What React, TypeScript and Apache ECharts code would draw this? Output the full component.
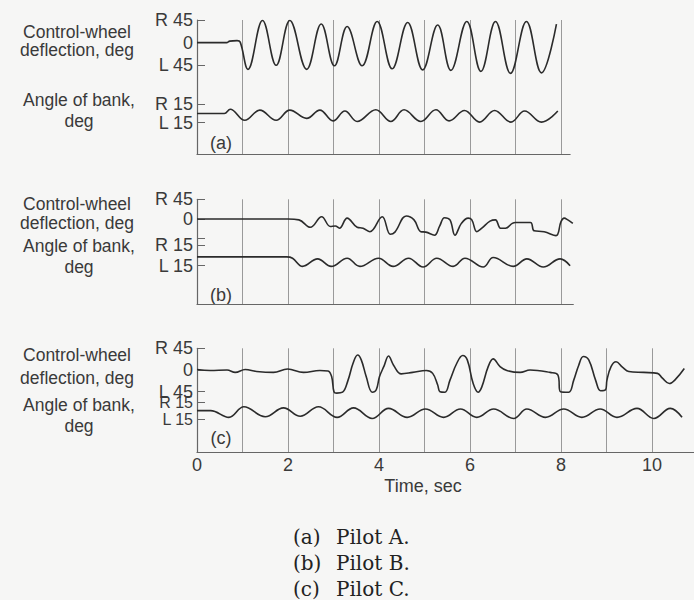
import React, { useEffect, useRef } from "react";
import * as echarts from "echarts";

// ---- data: [time (s), degrees] ----
const pilotAWheel: [number, number][] = [
  [0, 0], [0.65, 0], [0.72, 3], [0.88, 4], [0.95, 1], [1.12, -53], [1.44, 44], [1.74, -45],
  [2.04, 44], [2.41, -53], [2.73, 37], [3.02, -46], [3.3, 32], [3.63, -46], [3.96, 42],
  [4.29, -52], [4.63, 40], [4.96, -54], [5.29, 35], [5.58, -55], [5.93, 42], [6.24, -57],
  [6.56, 42], [6.89, -61], [7.24, 42], [7.57, -60], [7.9, 37],
];
const pilotABank: [number, number][] = [
  [0, 0], [0.6, 0], [0.73, 7], [1.05, -11], [1.38, 5.5], [1.74, -11], [2.04, 5.5], [2.41, -8],
  [2.7, 5.5], [2.99, -12], [3.25, 4], [3.52, -13], [3.93, 6], [4.26, -13], [4.55, 6], [4.92, -13],
  [5.25, 6], [5.54, -12], [5.88, 5], [6.21, -14], [6.54, 5], [6.9, -14], [7.2, 4], [7.57, -14],
  [7.93, 4],
];
const pilotBWheel: [number, number][] = [
  [0, 0], [2.0, 0], [2.24, -2], [2.49, -19], [2.74, 5], [2.93, -17], [3.04, -16], [3.13, -21],
  [3.3, 2], [3.52, -19], [3.65, -21], [3.8, -29], [4.07, 5], [4.25, -35], [4.35, -30], [4.6, 7],
  [4.77, -2], [4.92, -29], [5.03, -30], [5.22, -37], [5.33, -17], [5.44, 3], [5.56, -2],
  [5.67, -37], [5.81, -10], [5.96, 2], [6.04, -2], [6.15, -29], [6.26, -21], [6.44, -5],
  [6.56, -2], [6.67, -21], [6.78, -21], [6.93, -10], [7.0, -8], [7.33, -8], [7.41, -27],
  [7.63, -29], [7.89, -38], [8.0, -6], [8.07, 2], [8.15, -2], [8.26, -10],
];
const pilotBBank: [number, number][] = [
  [0, -2], [1.97, -2], [2.1, -4], [2.32, -16], [2.65, -5], [2.95, -16], [3.3, -4], [3.58, -16],
  [3.99, -4], [4.31, -16], [4.65, -4], [4.97, -17], [5.27, -4], [5.63, -16], [5.89, -4],
  [6.29, -17], [6.51, -3], [6.95, -16], [7.25, -5], [7.61, -17], [7.98, -5], [8.2, -15],
];
const pilotCWheel: [number, number][] = [
  [0, 1], [0.29, -1], [0.66, 0], [0.84, -5], [1.06, 1], [1.31, -3], [1.68, -5], [1.99, 2],
  [2.34, -5], [2.7, -1], [2.88, -2], [2.96, -14], [3.01, -45], [3.07, -48], [3.2, -46],
  [3.32, -21], [3.43, 14], [3.53, 31], [3.61, 21], [3.72, -14], [3.85, -46], [3.94, -41],
  [4.01, -14], [4.11, 8], [4.21, 29], [4.32, 10], [4.49, -8], [4.74, -5], [5.04, -1],
  [5.18, -7], [5.29, -31], [5.34, -45], [5.45, -46], [5.56, -21], [5.71, 14], [5.84, 30],
  [5.94, 21], [6.07, -28], [6.18, -46], [6.26, -35], [6.4, 7], [6.51, 23], [6.66, 7],
  [6.81, -1], [7.1, -5], [7.32, 0], [7.76, -5], [7.93, -10], [7.99, -45], [8.17, -46],
  [8.28, -21], [8.39, 10], [8.49, 28], [8.61, 21], [8.76, -21], [8.87, -43], [8.98, -41],
  [9.01, -21], [9.1, 7], [9.21, 17], [9.35, 6], [9.49, -3], [9.82, -5], [10.12, -7],
  [10.23, -17], [10.38, -28], [10.52, -19], [10.71, 3],
];
const pilotCBank: [number, number][] = [
  [0, 0], [0.3, 0], [0.7, -12], [1.03, 7], [1.5, -11], [1.9, 5], [2.27, -10], [2.67, 7],
  [3.08, -12], [3.44, 5], [3.85, -14], [4.21, 4], [4.62, -12], [5.02, 3], [5.42, -12],
  [5.79, 3], [6.15, -12], [6.52, 3], [6.96, -14], [7.25, 3], [7.66, -12], [8.06, 3],
  [8.46, -12], [8.86, 3], [9.23, -12], [9.67, 4], [10.04, -14], [10.4, 4], [10.66, -12],
];

const timeTicks = [0, 2, 4, 6, 8, 10];
const wheelTicks = [-45, 0, 45];
const bankTicks = [15, -15];
const bankLabels = ["R 15", "L 15"];
const panelTags = ["(a)", "(b)", "(c)"];
const pilotNames = ["Pilot A.", "Pilot B.", "Pilot C."];
const wheelTitle = "Control-wheel\ndeflection, deg";
const bankTitle = "Angle of bank,\ndeg";
const xTitle = "Time, sec";

// ---- layout ----
const PX = 45.5;
const LEFT = 197;
const SANS = "'Liberation Sans', Arial, sans-serif";
const SERIF = "'DejaVu Serif', serif";
const INK = "#2b2b2b";
const TXT = "#3a3a3a";

const panels = [
  { xMax: 8.2, frame: [20, 154], wheel: [20, 65.3], bank: [104.3, 122.7], showL45: true, showTime: false,
    bankFont: 18, wheelText: [41, 18.5], bankText: [110.5, 21], tagY: 143, wheelData: pilotAWheel, bankData: pilotABank },
  { xMax: 8.27, frame: [199.3, 304], wheel: [199.3, 238.7], bank: [245.3, 265.7], showL45: false, showTime: false,
    bankFont: 18, wheelText: [213.5, 18.5], bankText: [256.5, 21], tagY: 295, wheelData: pilotBWheel, bankData: pilotBBank },
  { xMax: 10.92, frame: [348.3, 452], wheel: [348.3, 391.7], bank: [402.3, 419], showL45: true, showTime: true,
    bankFont: 16, wheelText: [366.5, 23], bankText: [415.5, 21], tagY: 438, wheelData: pilotCWheel, bankData: pilotCBank },
];

function buildOption() {
  const grid: any[] = [];
  const xAxis: any[] = [];
  const yAxis: any[] = [];
  const series: any[] = [];
  const graphic: any[] = [];

  const text = (t: string, x: number, y: number, font: string, size: number, align = "center",
    fill = TXT, lineHeight = size) => ({
    type: "text", x, y, silent: true,
    style: { text: t, fontFamily: font, fontSize: size, lineHeight, fill, align, textAlign: align,
      verticalAlign: "middle", textVerticalAlign: "middle" },
  });

  const tickLabel = {
    show: true, margin: 4, fontFamily: SANS, fontSize: 18, lineHeight: 13, color: TXT, hideOverlap: false,
    showMinLabel: true, showMaxLabel: true,
  };

  panels.forEach((p, i) => {
    const width = p.xMax * PX;
    const gBase = grid.length;
    const mkGrid = (top: number, bottom: number) => ({
      left: LEFT, top, width, height: bottom - top, containLabel: false, outerBoundsMode: "none",
    });
    grid.push(mkGrid(p.frame[0], p.frame[1]));
    grid.push(mkGrid(p.wheel[0], p.wheel[1]));
    grid.push(mkGrid(p.bank[0], p.bank[1]));

    // frame axes
    xAxis.push({
      gridIndex: gBase, type: "value", position: "bottom", min: 0, max: p.xMax, interval: 1,
      axisLine: { show: true, lineStyle: { color: "#666", width: 1.2 } },
      axisTick: { show: false },
      axisLabel: p.showTime
        ? { ...tickLabel, customValues: timeTicks, formatter: (v: number) => String(v), margin: 6 }
        : { show: false },
      splitLine: { show: true, showMinLine: false, showMaxLine: false, lineStyle: { color: "#9a9a9a", width: 1 } },
    });
    yAxis.push({
      gridIndex: gBase, type: "value", position: "left", min: 0, max: 1,
      axisLine: { show: true, lineStyle: { color: "#666", width: 1.2 } },
      axisTick: { show: false }, axisLabel: { show: false }, splitLine: { show: false },
    });

    // wheel axes
    const xWheel = xAxis.length;
    xAxis.push({ gridIndex: gBase + 1, type: "value", min: 0, max: p.xMax, show: false });
    const yWheel = yAxis.length;
    yAxis.push({
      gridIndex: gBase + 1, type: "value", position: "left", offset: 0, min: -45, max: 45, interval: 45,
      axisLine: { show: false },
      axisTick: { show: true, inside: true, length: 8, customValues: wheelTicks, lineStyle: { color: "#666" } },
      axisLabel: {
        ...tickLabel, customValues: wheelTicks,
        formatter: (v: number) => (v > 0 ? "R 45" : v < 0 ? (p.showL45 ? "L 45" : "") : "0"),
      },
      splitLine: { show: false },
    });

    // bank axes (one left y axis per tick so that the close labels are not thinned)
    const xBank = xAxis.length;
    xAxis.push({ gridIndex: gBase + 2, type: "value", min: 0, max: p.xMax, show: false });
    const yBank = yAxis.length;
    bankTicks.forEach((tv, k) => {
      yAxis.push({
        gridIndex: gBase + 2, type: "value", position: "left", offset: 0, min: -15, max: 15, interval: 15,
        axisLine: { show: false },
        axisTick: { show: true, inside: true, length: 8, customValues: [tv], lineStyle: { color: "#666" } },
        axisLabel: { ...tickLabel, fontSize: p.bankFont, lineHeight: 12, customValues: [tv],
          formatter: () => bankLabels[k] },
        splitLine: { show: false },
      });
    });

    const line = (data: [number, number][], xi: number, yi: number) => ({
      type: "line", xAxisIndex: xi, yAxisIndex: yi, data, showSymbol: false, symbol: "none",
      smooth: 0.4, clip: false, silent: true,
      lineStyle: { color: INK, width: 1.6 },
    });
    series.push(line(p.wheelData, xWheel, yWheel));
    series.push(line(p.bankData, xBank, yBank));

    graphic.push(text(wheelTitle, 77, p.wheelText[0], SANS, 17.5, "center", TXT, p.wheelText[1]));
    graphic.push(text(bankTitle, 79, p.bankText[0], SANS, 17.5, "center", TXT, p.bankText[1]));
    graphic.push(text(panelTags[i], 221, p.tagY, SANS, 18));

    graphic.push(text(panelTags[i], 293, 537 + i * 26, SERIF, 20, "left", "#222"));
    graphic.push(text(pilotNames[i], 336, 537 + i * 26, SERIF, 20, "left", "#222"));
  });

  graphic.push(text(xTitle, 423, 486, SANS, 18));

  return {
    animation: false,
    backgroundColor: "#f6f6f5",
    grid, xAxis, yAxis, series, graphic,
  };
}

export default function App() {
  const ref = useRef<HTMLDivElement>(null);
  useEffect(() => {
    if (!ref.current) return;
    const chart = echarts.init(ref.current, undefined, { renderer: "svg" });
    chart.setOption(buildOption() as any);
    return () => chart.dispose();
  }, []);
  return <div ref={ref} style={{ position: "fixed", left: 0, top: 0, width: 694, height: 600 }} />;
}
